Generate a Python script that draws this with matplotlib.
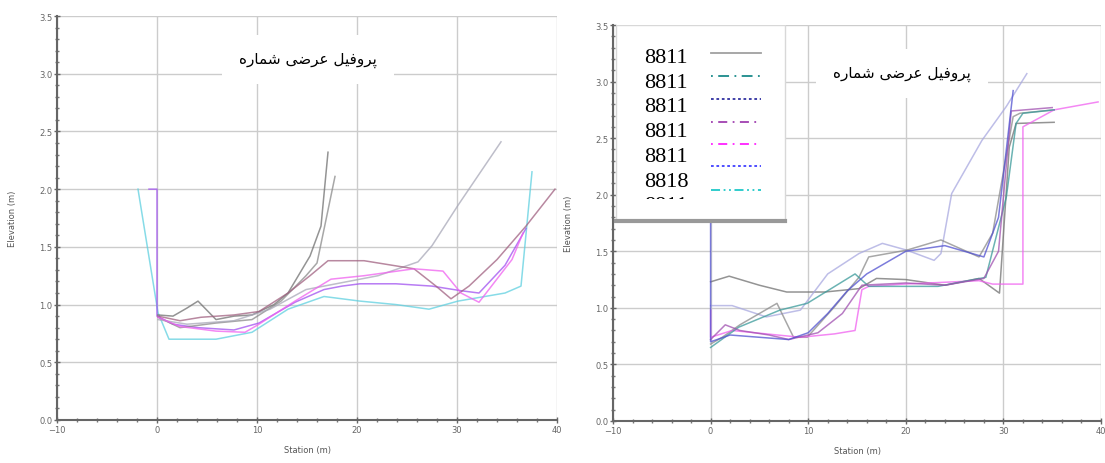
import matplotlib
matplotlib.use('Agg')
import matplotlib.pyplot as plt
import matplotlib.patches as patches
from matplotlib.lines import Line2D
from matplotlib.ticker import MultipleLocator, FormatStrFormatter

# ---- left panel: station (m), elevation (m) ----
left_x = [
    [-1.9, 0.1, 1.2, 5.9, 9.5, 13.1, 16.7, 20.3, 23.9, 27.2, 30.1, 34.8, 36.4, 37.5],
    [-0.8, 0.0, 0.0, 1.6, 4.1, 7.7, 10.2, 13.8, 16.7, 18.5, 20.3, 23.9, 27.5, 30.4, 32.2, 34.8, 36.9],
    [0.1, 1.6, 3.0, 4.1, 5.9, 7.7, 9.5, 11.7, 13.1, 15.3, 16.4, 17.1],
    [0.1, 2.3, 5.9, 9.5, 12.4, 14.9, 16.0, 17.8],
    [0.1, 3.0, 7.7, 11.3, 14.9, 18.5, 22.1, 26.1, 27.5, 30.1, 34.4],
    [0.1, 2.3, 4.4, 7.7, 10.2, 13.1, 15.3, 17.1, 20.7, 25.7, 27.9, 29.4, 31.2, 34.0, 36.9, 39.8],
    [0.1, 2.3, 5.9, 8.8, 10.2, 13.8, 17.4, 20.7, 25.7, 28.6, 30.4, 32.2, 35.5, 36.6],
]
left_y = [
    [2.0, 0.93, 0.70, 0.70, 0.76, 0.96, 1.07, 1.03, 1.00, 0.96, 1.03, 1.10, 1.16, 2.15],
    [2.0, 2.0, 0.90, 0.83, 0.80, 0.78, 0.84, 1.02, 1.13, 1.16, 1.18, 1.18, 1.16, 1.12, 1.10, 1.34, 1.66],
    [0.91, 0.90, 0.97, 1.03, 0.87, 0.90, 0.91, 1.00, 1.10, 1.42, 1.68, 2.32],
    [0.89, 0.80, 0.84, 0.87, 1.03, 1.25, 1.36, 2.11],
    [0.87, 0.83, 0.86, 0.96, 1.13, 1.19, 1.25, 1.37, 1.51, 1.86, 2.41],
    [0.90, 0.86, 0.89, 0.91, 0.94, 1.10, 1.25, 1.38, 1.38, 1.31, 1.16, 1.05, 1.16, 1.39, 1.68, 2.00],
    [0.89, 0.81, 0.77, 0.76, 0.83, 1.03, 1.22, 1.25, 1.31, 1.29, 1.10, 1.02, 1.39, 1.62],
]
left_colors = ['#5fd0e0', '#a050f0', '#707070', '#8a8a8a', '#a8a8b8', '#a06080', '#f060f0']

# ---- right panel ----
right_x = [
    [0.0, 1.9, 5.0, 7.8, 11.7, 15.2, 17.0, 20.0, 24.0, 27.5, 29.6, 30.6, 31.3, 35.2],
    [0.0, 2.2, 5.7, 9.2, 12.0, 15.2, 17.6, 20.1, 22.9, 23.6, 24.7, 27.8, 30.3, 32.4],
    [0.0, 1.2, 3.0, 6.8, 8.5, 9.9, 12.7, 15.2, 16.2, 20.1, 23.6, 27.5, 28.9, 31.0, 31.7, 35.2],
    [0.0, 0.0, 2.2, 5.7, 9.2, 12.7, 14.8, 15.5, 16.2, 19.8, 27.5, 28.9, 32.0, 32.0, 35.2, 39.7],
    [0.0, 2.9, 7.1, 9.9, 14.8, 16.2, 23.3, 28.2, 30.3, 31.3, 32.0, 35.2],
    [0.0, 1.5, 3.0, 6.0, 8.0, 11.0, 13.5, 15.5, 20.0, 24.0, 28.0, 29.5, 30.8, 35.0],
    [0.0, 0.0, 2.0, 5.0, 8.0, 10.0, 12.0, 14.0, 16.0, 20.0, 24.0, 28.0, 29.5, 31.0],
]
right_y = [
    [1.23, 1.28, 1.20, 1.14, 1.14, 1.17, 1.26, 1.25, 1.20, 1.26, 1.13, 2.42, 2.63, 2.64],
    [1.02, 1.02, 0.92, 0.98, 1.30, 1.48, 1.57, 1.51, 1.42, 1.48, 2.01, 2.48, 2.78, 3.07],
    [0.68, 0.74, 0.85, 1.04, 0.74, 0.74, 1.01, 1.27, 1.45, 1.51, 1.60, 1.45, 1.66, 2.69, 2.72, 2.75],
    [0.98, 0.74, 0.80, 0.77, 0.74, 0.77, 0.80, 1.16, 1.19, 1.21, 1.24, 1.21, 1.21, 2.60, 2.75, 2.82],
    [0.65, 0.83, 0.98, 1.04, 1.30, 1.19, 1.19, 1.27, 1.98, 2.63, 2.72, 2.75],
    [0.72, 0.85, 0.80, 0.76, 0.72, 0.78, 0.95, 1.20, 1.22, 1.20, 1.26, 1.50, 2.74, 2.77],
    [2.0, 0.70, 0.76, 0.74, 0.72, 0.78, 0.95, 1.15, 1.30, 1.50, 1.55, 1.45, 1.80, 2.92],
]
right_colors = ['#707070', '#a8a8e0', '#8a8a8a', '#f060f0', '#3a9a9a', '#a050b0', '#5050d0']

# legend of the right panel
legend_labels = ['8811', '8811', '8811', '8811', '8811', '8818', '8811']
legend_colors = ['#a0a0a0', '#1a8a8a', '#3030a0', '#a040b0', '#ff20ff', '#4040ff', '#20c8c8']
legend_styles = ['-', (0, (1, 3, 6, 3)), (0, (1.5, 1.5)), (0, (1, 3, 5, 3)),
                 (0, (1, 3, 5, 3)), (0, (1.5, 1.5)), (0, (5, 2, 1, 2, 1, 2))]

# "پروفیل عرضی شماره" in shaped presentation forms, visual order
title_words = ['\uFB58\uFEAE\uFEED\uFED3\uFBFF\uFEDE',
               '\uFECB\uFEAE\uFEBF\uFBFD',
               '\uFEB7\uFEE4\uFE8E\uFEAD\uFEE9']
title_visual = ' '.join(title_words)[::-1]

fig = plt.figure(figsize=(11.05, 4.64), dpi=100)
ax1 = fig.add_axes([57 / 1105, 43 / 464, 500 / 1105, 404 / 464])
ax2 = fig.add_axes([613 / 1105, 42 / 464, 488 / 1105, 396 / 464])


def style_axes(ax):
    ax.set_xlim(-10, 40)
    ax.set_ylim(0, 3.5)
    ax.xaxis.set_major_locator(MultipleLocator(10))
    ax.xaxis.set_minor_locator(MultipleLocator(2))
    ax.yaxis.set_major_locator(MultipleLocator(0.5))
    ax.yaxis.set_minor_locator(MultipleLocator(0.1))
    ax.yaxis.set_major_formatter(FormatStrFormatter('%.1f'))
    ax.grid(True, which='major', color='#cccccc', lw=1.0)
    ax.set_axisbelow(True)
    for s in ['top', 'right']:
        ax.spines[s].set_visible(False)
    for s in ['left', 'bottom']:
        ax.spines[s].set_color('#666666')
        ax.spines[s].set_linewidth(1.5)
    ax.tick_params(which='major', direction='inout', length=5, width=1, colors='#666666',
                   labelsize=6, labelcolor='#666666', pad=1)
    ax.tick_params(which='minor', direction='inout', length=3, width=1, colors='#777777')
    ax.set_xlabel('Station (m)', fontsize=6, color='#555555', labelpad=8)
    ax.set_ylabel('Elevation (m)', fontsize=6, color='#555555', labelpad=16)


style_axes(ax1)
style_axes(ax2)

for xs, ys, c in zip(left_x, left_y, left_colors):
    ax1.plot(xs, ys, color=c, lw=1.1, alpha=0.75)
for xs, ys, c in zip(right_x, right_y, right_colors):
    ax2.plot(xs, ys, color=c, lw=1.1, alpha=0.75)

box = dict(boxstyle='square,pad=1.1', facecolor='white', edgecolor='none')
ax1.text(15.1, 3.12, title_visual, family=['DejaVu Sans'], fontsize=11,
         ha='center', va='center', bbox=box, zorder=6)
ax2.text(19.6, 3.07, title_visual, family=['DejaVu Sans'], fontsize=11,
         ha='center', va='center', bbox=box, zorder=6)

# hand-drawn legend, last entry cut by the frame like the original
frame = patches.Rectangle((0.006, 0.505), 0.346, 0.495, transform=ax2.transAxes,
                          facecolor='white', edgecolor='#d8d8d8', lw=1, zorder=7)
ax2.add_patch(frame)
ax2.add_line(Line2D([0.006, 0.352], [0.505, 0.505], transform=ax2.transAxes,
                    color='#999999', lw=3, zorder=8))
clip = patches.Rectangle((0.0, 0.561), 0.352, 0.44, transform=ax2.transAxes)
text_y = [0.917, 0.856, 0.795, 0.732, 0.669, 0.606, 0.543]
line_y = [0.929, 0.871, 0.813, 0.755, 0.699, 0.644, 0.583]
for i, lab in enumerate(legend_labels):
    t = ax2.text(0.109, text_y[i], lab, transform=ax2.transAxes, family='Liberation Serif',
                 fontsize=16, ha='center', va='center', zorder=9)
    t.set_clip_on(True)
    t.set_clip_path(clip)
    ln = Line2D([0.2, 0.303], [line_y[i], line_y[i]], transform=ax2.transAxes,
                color=legend_colors[i], lw=1.3, linestyle=legend_styles[i], zorder=9)
    ln.set_clip_path(clip)
    ax2.add_line(ln)

fig.savefig('out.png', dpi=100)
